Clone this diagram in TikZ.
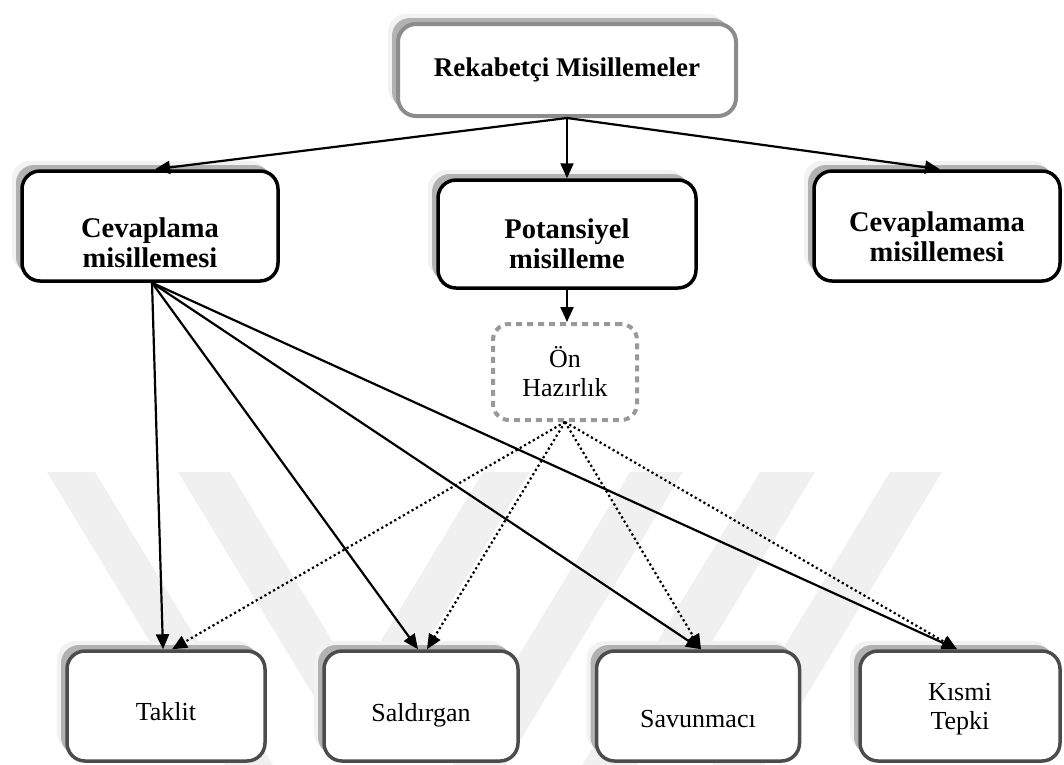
\documentclass[tikz,border=0pt]{standalone}
\usepackage{fontspec}
\setmainfont{Liberation Serif}
\usetikzlibrary{arrows.meta,shadows}

\begin{document}
\begin{tikzpicture}[x=1pt,y=-1pt,
    box/.style={rounded corners=18pt,fill=white,align=center,inner sep=0pt,
        font=\fontsize{26}{29}\selectfont,
        general shadow={shadow xshift=-10pt,shadow yshift=10pt,fill=black!5},
        general shadow={shadow xshift=-6pt,shadow yshift=6pt,fill=black!30}},
    topbox/.style={box,draw=black!45,line width=4pt,font=\fontsize{27}{30}\selectfont\bfseries},
    midbox/.style={box,draw=black,line width=3.5pt,font=\fontsize{28.5}{30}\selectfont\bfseries,
        minimum height=110pt},
    lowbox/.style={box,draw=black!70,line width=3.5pt,minimum height=110pt},
    prepbox/.style={rounded corners=16pt,draw=black!40,line width=4pt,
        dash pattern=on 6pt off 5pt,align=center,inner sep=0pt,
        font=\fontsize{26}{29}\selectfont},
    link/.style={line width=2.2pt,-{Triangle[length=15pt,width=13pt]}},
    dotlink/.style={link,dash pattern=on 2.2pt off 2.8pt},
    wmark/.style={fill=black!6}
]
    \useasboundingbox (0,0) rectangle (1064,764);
    % watermark
    \begin{scope}
        \clip (0,0) rectangle (1064,764);
        \fill[wmark] (47,472) -- (95,472) -- (294,800) -- (246,800) -- cycle;
        \fill[wmark] (178,472) -- (230,472) -- (356.5,681) -- (483,472)
            -- (530,472) -- (354,762.4) -- cycle;
        \fill[wmark] (630,472) -- (683,472) -- (484,800) -- (431,800) -- cycle;
        \fill[wmark] (760,472) -- (815,472) -- (616,800) -- (561,800) -- cycle;
        \fill[wmark] (890,472) -- (942,472) -- (743,800) -- (691,800) -- cycle;
    \end{scope}

    \node[topbox,minimum width=338pt,minimum height=92pt] (rek) at (567,70)
        {Rekabetçi Misillemeler};

    \node[midbox,minimum width=256pt] (cevap) at (150,226)
        {\rule{0pt}{54pt}Cevaplama\\misillemesi};
    \node[midbox,minimum width=258pt,minimum height=108pt] (potan) at (567,234)
        {\rule{0pt}{40pt}Potansiyel\\misilleme};
    \node[midbox,minimum width=246pt] (cevapma) at (937,226)
        {\rule{0pt}{42pt}Cevaplamama\\misillemesi};

    \node[prepbox,minimum width=144pt,minimum height=96pt] (hazir) at (565,372)
        {Ön\\Hazırlık};

    \node[lowbox,minimum width=198pt] (taklit) at (166,706) {\rule{0pt}{30pt}Taklit};
    \node[lowbox,minimum width=194pt] (saldir) at (421,706) {\rule{0pt}{36pt}Saldırgan};
    \node[lowbox,minimum width=203pt] (savun) at (698,706) {\rule{0pt}{44pt}Savunmacı};
    \node[lowbox,minimum width=200pt] (kismi) at (960,706) {\rule{0pt}{24pt}Kısmi\\Tepki};

    \draw[link] (rek.south) -- ([xshift=5pt]cevap.north);
    \draw[link] (rek.south) -- (potan.north);
    \draw[link] (rek.south) -- ([xshift=3pt]cevapma.north);
    \draw[link] (potan.south) -- (potan.south |- hazir.north);

    \draw[link] ([xshift=2pt]cevap.south) -- ([xshift=-3pt]taklit.north);
    \draw[link] ([xshift=2pt]cevap.south) -- ([xshift=-3pt]saldir.north);
    \draw[link] ([xshift=2pt]cevap.south) -- ([xshift=3pt]savun.north);
    \draw[link] ([xshift=2pt]cevap.south) -- ([xshift=-3pt]kismi.north);

    \draw[dotlink] (hazir.south) -- ([xshift=6pt]taklit.north);
    \draw[dotlink] (hazir.south) -- ([xshift=6pt]saldir.north);
    \draw[dotlink] (hazir.south) -- ([xshift=3pt]savun.north);
    \draw[dotlink] (hazir.south) -- ([xshift=-3pt]kismi.north);
\end{tikzpicture}
\end{document}
